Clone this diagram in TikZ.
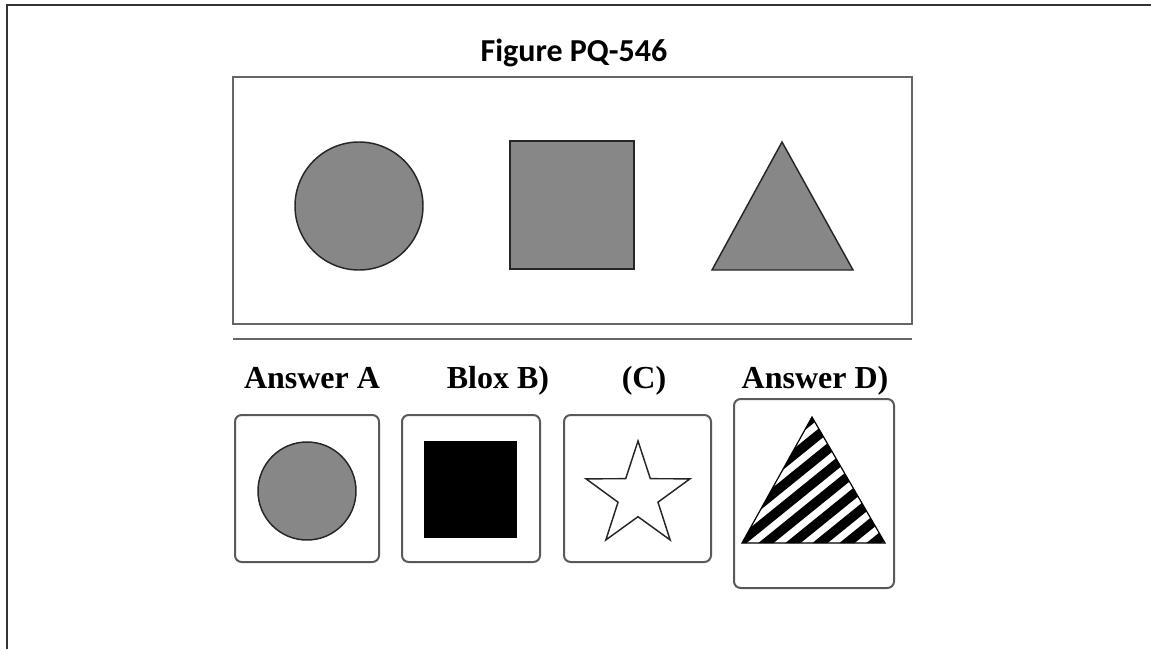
\documentclass[tikz,border=0pt]{standalone}
\usepackage{fontspec}
\setmainfont{Liberation Serif}
\newfontfamily\titlefont{Carlito}
\begin{document}
\begin{tikzpicture}[x=0.75pt, y=-0.75pt,
  frame/.style={draw=black!60, line width=1.5pt},
  shapefill/.style={draw=black!85, line width=1.1pt, fill=black!47},
  answerbox/.style={draw=black!65, line width=1.5pt, rounded corners=5pt, inner sep=0pt},
  answerlabel/.style={font=\fontsize{24}{28}\selectfont\bfseries, anchor=base},
  hatch/.style={line width=7.2pt, black},
]
\useasboundingbox (0,0) rectangle (1151,649);
% outer edge of the sheet
\draw[line width=1.5pt, black!80] (7,649) -- (7,5) -- (1151,5);

\node[font=\titlefont\fontsize{24}{28}\selectfont\bfseries, anchor=base] (title) at (574,62) {Figure PQ-546};

% figure panel
\draw[frame] (233,77) rectangle (912,324);
\draw[frame] (233,339) -- (912,339);
\node[shapefill, circle, minimum size=96pt, inner sep=0pt] (circ) at (359,206) {};
\node[shapefill, minimum width=93pt, minimum height=96pt, inner sep=0pt] (sq) at (572,205) {};
\coordinate (tritop) at (782,142);
\draw[shapefill] (tritop) -- (853,270) -- (712,270) -- cycle;

% answer labels
\node[answerlabel] (labA) at (312,388) {Answer A};
\node[answerlabel] (labB) at (498,388) {Blox B)};
\node[answerlabel] (labC) at (644,388) {(C)};
\node[answerlabel] (labD) at (815,388) {Answer D)};

% answer boxes
\node[answerbox, minimum width=108pt, minimum height=110.25pt] (boxA) at (307,488.5) {};
\node[answerbox, minimum width=103.5pt, minimum height=110.25pt] (boxB) at (471,488.5) {};
\node[answerbox, minimum width=110.25pt, minimum height=110.25pt] (boxC) at (637.5,488.5) {};
\node[answerbox, minimum width=120pt, minimum height=141.75pt] (boxD) at (814,493.5) {};

\node[shapefill, circle, minimum size=73.5pt, inner sep=0pt] (circA) at (307,491) {};
\node[fill=black, minimum width=69.75pt, minimum height=72.75pt, inner sep=0pt] (sqB) at (470.5,489.5) {};
\coordinate (starc) at (638,495.7);
\draw[line width=1.1pt, black!85, line join=miter]
  ([shift={(-90:54.7)}]starc)
  \foreach \i in {1,...,9} {
    \ifodd\i -- ([shift={(-90+36*\i:21)}]starc) \else -- ([shift={(-90+36*\i:54.7)}]starc) \fi
  } -- cycle;

% striped triangle
\begin{scope}
  \clip (812,417) -- (885,543) -- (742,543) -- cycle;
  \begin{scope}[shift={(812,480)}, rotate=39]
    \foreach \k in {-8,...,8}
      \draw[hatch] (-160,\k*17+3) -- (160,\k*17+3);
  \end{scope}
\end{scope}
\draw[line width=0.9pt] (812,417) -- (885,543) -- (742,543) -- cycle;
\end{tikzpicture}
\end{document}
